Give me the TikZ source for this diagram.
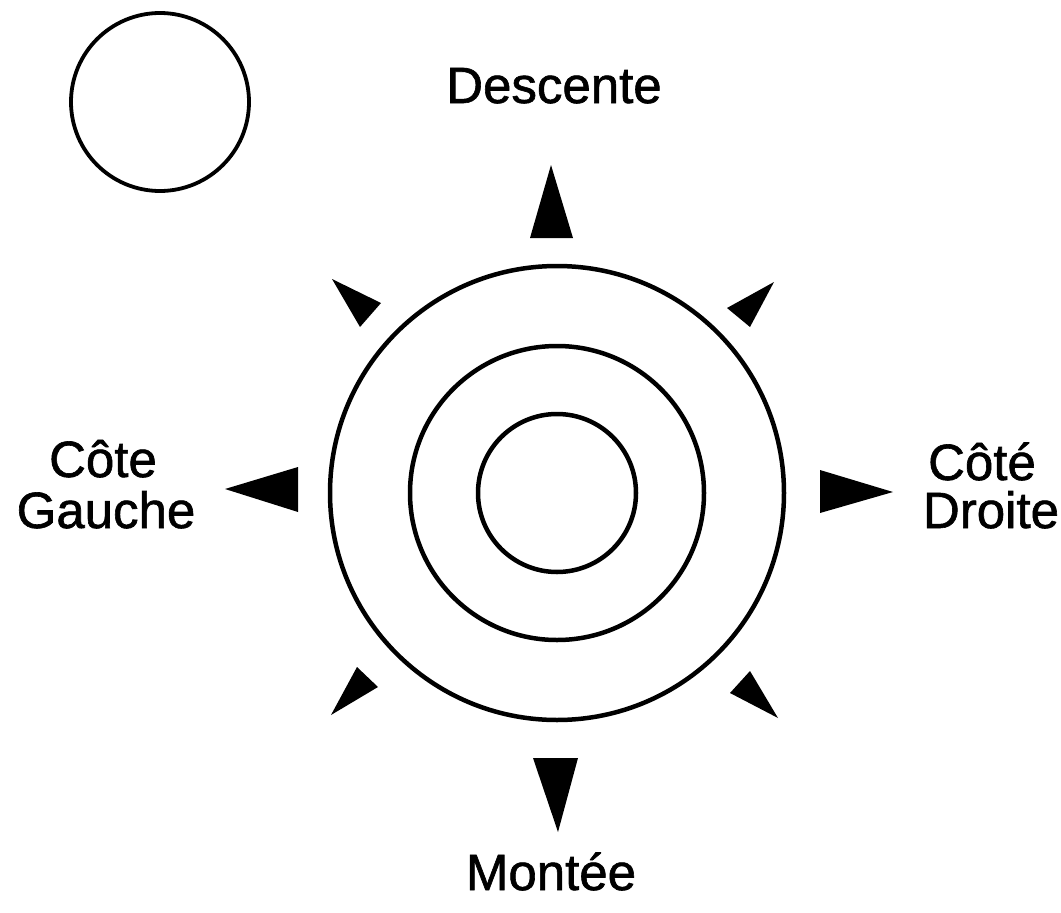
\documentclass[tikz,border=0pt]{standalone}
\usepackage{fontspec}
\setmainfont{Liberation Sans}
\newfontfamily\lblfont{Liberation Sans}[FakeBold=1.2]
\begin{document}
\begin{tikzpicture}[x=1pt,y=-1pt,
  ring/.style={draw=black,line width=4.5pt},
  arrowhead/.style={fill=black},
  lbl/.style={anchor=base,inner sep=0pt,font=\lblfont\fontsize{51}{51}\selectfont}]
\useasboundingbox (0,0) rectangle (1061,913);
% small circle
\draw[ring,line width=3.8pt] (160,102) circle (89);
% concentric circles
\draw[ring] (557,493) circle (227);
\draw[ring] (557,493) circle (147);
\draw[ring] (557,493) circle (79);
% triangles
\fill[arrowhead] (551,165) -- (573,238) -- (530,238) -- cycle;
\fill[arrowhead] (558,832) -- (533,758) -- (578,758) -- cycle;
\fill[arrowhead] (225,489) -- (298,467) -- (298,512) -- cycle;
\fill[arrowhead] (893,492) -- (820,470) -- (820,513) -- cycle;
\fill[arrowhead] (332,279) -- (381,303) -- (360,327) -- cycle;
\fill[arrowhead] (774,282) -- (727,308) -- (750,327) -- cycle;
\fill[arrowhead] (331,715) -- (357,667) -- (378,687) -- cycle;
\fill[arrowhead] (778,718) -- (750,671) -- (730,693) -- cycle;
% labels
\node[lbl] (desc) at (554,103) {Descente};
\node[lbl] (mont) at (551,890) {Montée};
\node[lbl] (cg1) at (103,477) {Côte};
\node[lbl] (cg2) at (106,528) {Gauche};
\node[lbl] (cd1) at (982,480) {Côté};
\node[lbl] (cd2) at (991,528) {Droite};
\end{tikzpicture}
\end{document}
